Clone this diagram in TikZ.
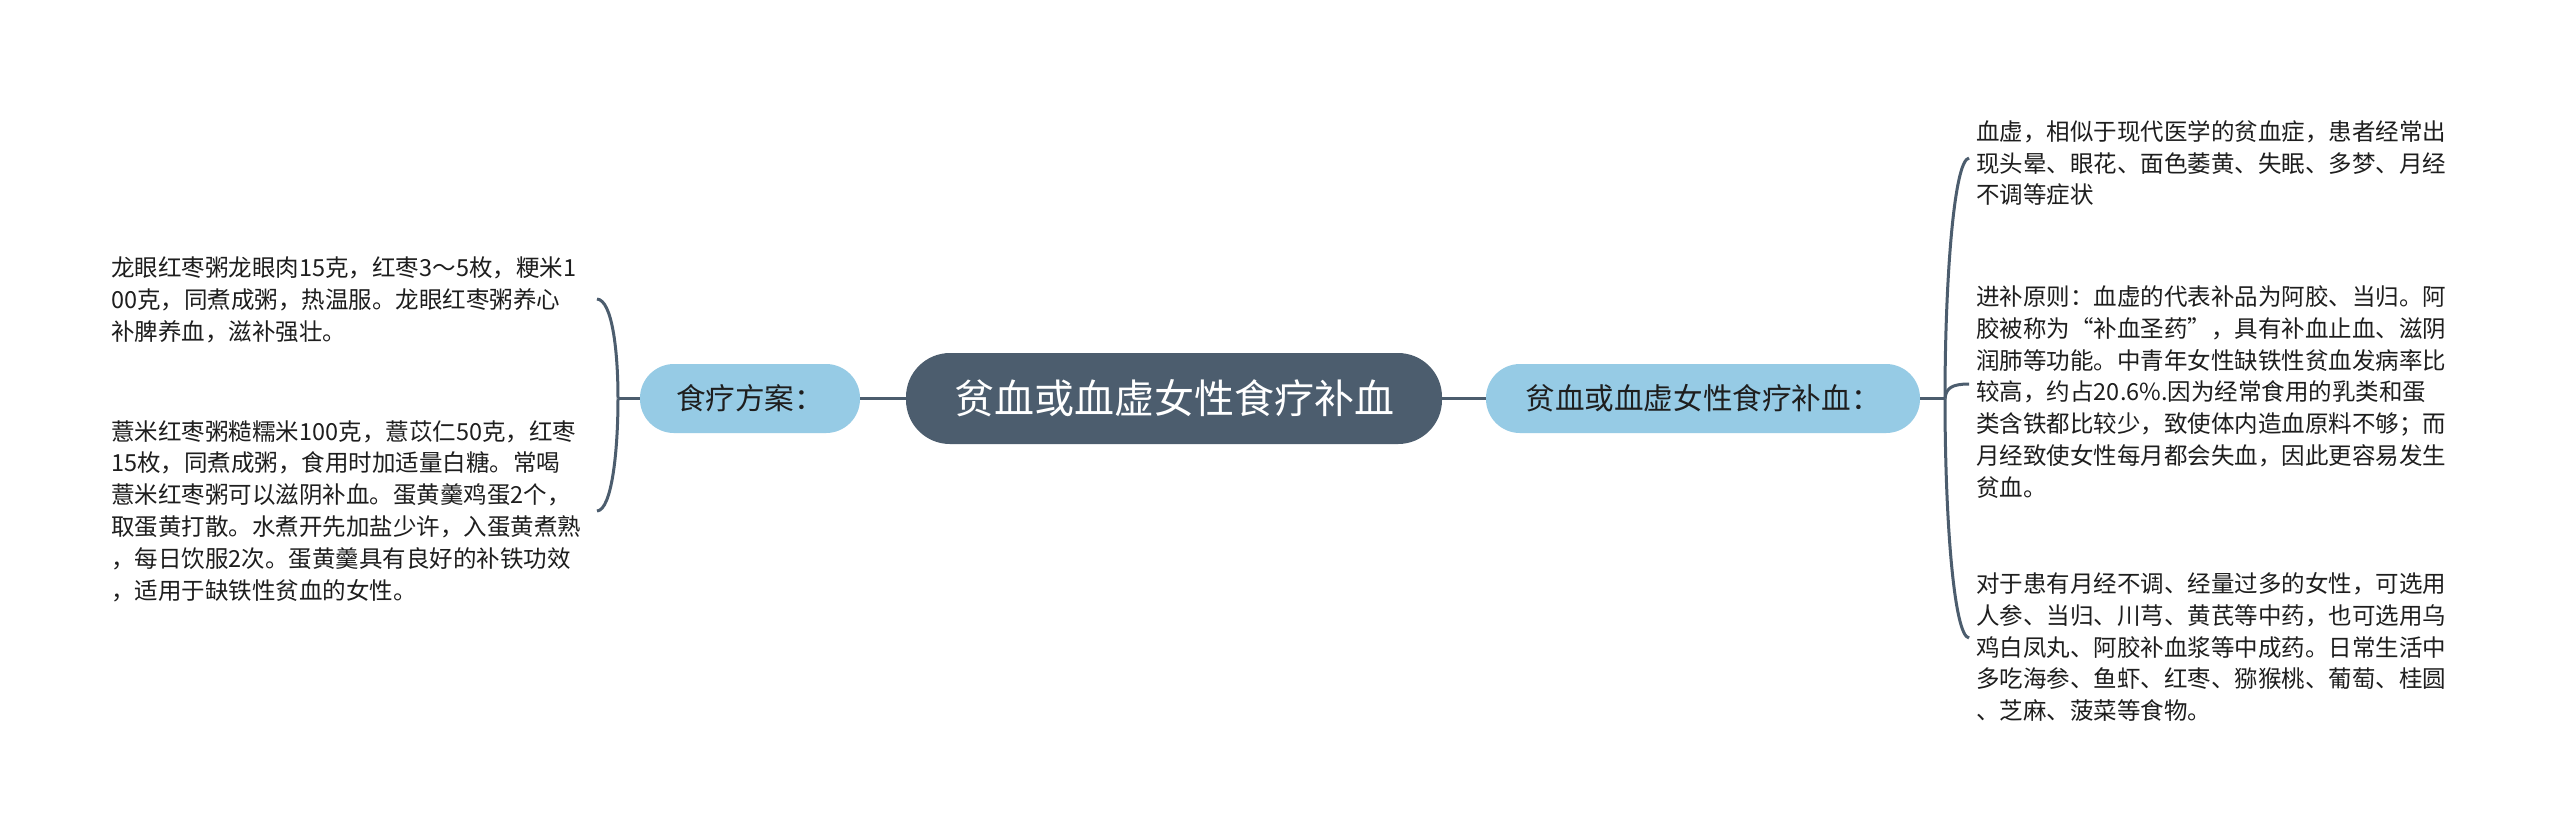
\documentclass[tikz,border=0pt]{standalone}
\usepackage{fontspec}
\setmainfont{Noto Sans CJK SC}
\definecolor{mainc}{RGB}{76,93,110}
\definecolor{subc}{RGB}{150,203,229}
\definecolor{linec}{RGB}{76,93,110}
\definecolor{txtc}{RGB}{30,30,30}
\begin{document}
\begin{tikzpicture}[x=0.5pt,y=-0.5pt,
  conn/.style={draw=linec, line width=1.5pt},
  mainbox/.style={fill=mainc, text=white, rounded corners=22pt, minimum width=268pt, minimum height=45.5pt, font=\fontsize{20}{24}\selectfont, inner sep=0pt},
  subbox/.style={fill=subc, text=txtc, rounded corners=17pt, minimum height=34.5pt, font=\fontsize{14.8}{17}\selectfont, inner sep=0pt},
  leaf/.style={text=txtc, align=left, inner sep=0pt, font=\fontsize{11.75}{15.9}\selectfont, anchor=west}]
\path[use as bounding box, fill=white] (0,0) rectangle (2560,827);

\node[mainbox] (c) at (1174,398.5) {贫血或血虚女性食疗补血};
\node[subbox, minimum width=110pt] (l) at (750,398.5) {食疗方案：};
\node[subbox, minimum width=217pt] (r) at (1703,398.5) {贫血或血虚女性食疗补血：};

% left leaves
\node[leaf] (l1) at (111,300) {龙眼红枣粥龙眼肉15克，红枣3～5枚，粳米1\\00克，同煮成粥，热温服。龙眼红枣粥养心\\补脾养血，滋补强壮。};
\node[leaf] (l2) at (111,511) {薏米红枣粥糙糯米100克，薏苡仁50克，红枣\\15枚，同煮成粥，食用时加适量白糖。常喝\\薏米红枣粥可以滋阴补血。蛋黄羹鸡蛋2个，\\取蛋黄打散。水煮开先加盐少许，入蛋黄煮熟\\，每日饮服2次。蛋黄羹具有良好的补铁功效\\，适用于缺铁性贫血的女性。};

% right leaves
\node[leaf] (r1) at (1976,163) {血虚，相似于现代医学的贫血症，患者经常出\\现头晕、眼花、面色萎黄、失眠、多梦、月经\\不调等症状};
\node[leaf] (r2) at (1976,392) {进补原则：血虚的代表补品为阿胶、当归。阿\\胶被称为“补血圣药”，具有补血止血、滋阴\\润肺等功能。中青年女性缺铁性贫血发病率比\\较高，约占20.6\%.因为经常食用的乳类和蛋\\类含铁都比较少，致使体内造血原料不够；而\\月经致使女性每月都会失血，因此更容易发生\\贫血。};
\node[leaf] (r3) at (1976,647) {对于患有月经不调、经量过多的女性，可选用\\人参、当归、川芎、黄芪等中药，也可选用乌\\鸡白凤丸、阿胶补血浆等中成药。日常生活中\\多吃海参、鱼虾、红枣、猕猴桃、葡萄、桂圆\\、芝麻、菠菜等食物。};

% connectors
\draw[conn] (c.west) -- (l.east);
\draw[conn] (c.east) -- (r.west);

\coordinate (lj) at (618,398.5);
\coordinate (le1) at (597,299);
\coordinate (le2) at (597,511);
\draw[conn] (l.west) -- (lj);
\draw[conn] (lj) .. controls (618,350) and (612,300) .. (le1);
\draw[conn] (lj) .. controls (618,450) and (612,510) .. (le2);

\coordinate (rj) at (1945,398.5);
\coordinate (re1) at (1969,158);
\coordinate (re2) at (1969,384);
\coordinate (re3) at (1969,638);
\draw[conn] (r.east) -- (rj);
\draw[conn] (rj) .. controls (1945,280) and (1954,160) .. (re1);
\draw[conn] (rj) .. controls (1946,388) and (1952,384) .. (re2);
\draw[conn] (rj) .. controls (1945,520) and (1954,636) .. (re3);
\end{tikzpicture}
\end{document}
